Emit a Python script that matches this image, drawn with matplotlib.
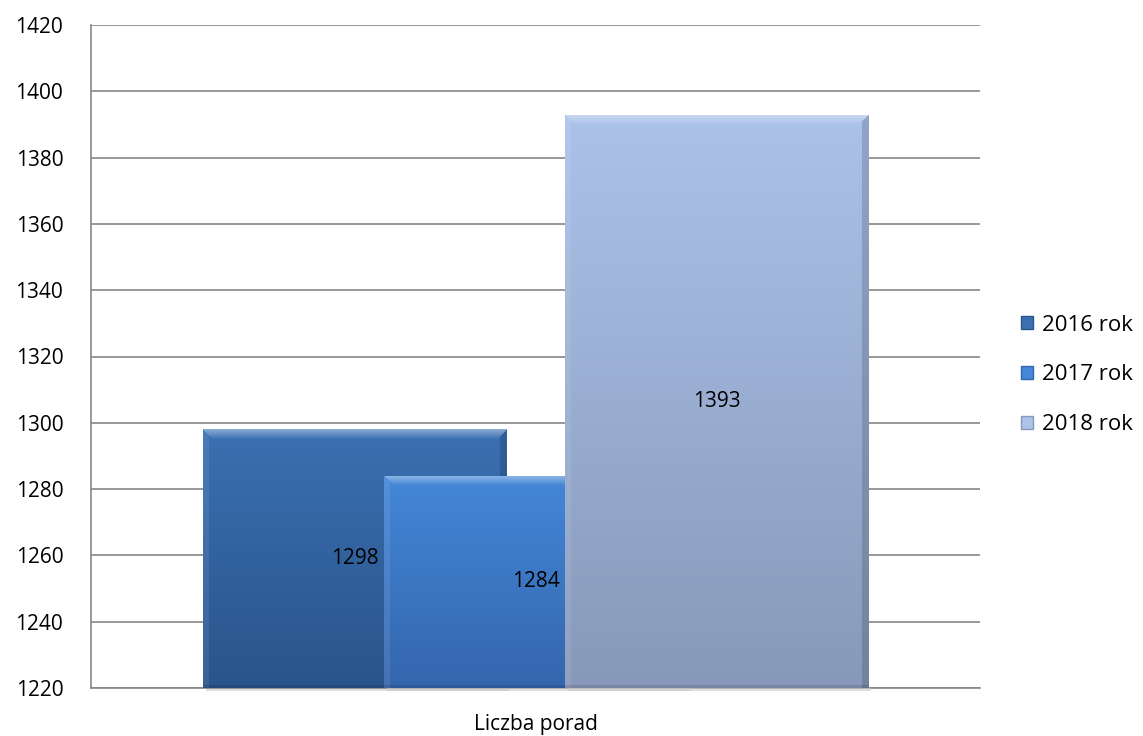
import numpy as np
import matplotlib
matplotlib.use("Agg")
import matplotlib.pyplot as plt
from matplotlib.patches import Patch
from matplotlib.colors import to_rgb

category = "Liczba porad"
series = ["2016 rok", "2017 rok", "2018 rok"]
values = [1298, 1284, 1393]
yticks = [1220, 1240, 1260, 1280, 1300, 1320, 1340, 1360, 1380, 1400, 1420]

top_colors = ["#3a70b2", "#4487d8", "#abc2e9"]
bot_colors = ["#2a548a", "#3466ad", "#8799ba"]

plt.rcParams['font.family'] = ['Open Sans', 'DejaVu Sans']
FS = 15

W, H, DPI = 1143, 736, 100
fig = plt.figure(figsize=(W / DPI, H / DPI), dpi=DPI)
ax = fig.add_axes([91 / W, 1 - 688 / H, (980 - 91) / W, (688 - 25) / H])

ymin, ymax = 1220, 1420
ax.set_ylim(ymin, ymax)
ax.set_xlim(-0.5, 0.5)

width = 0.341
step = 0.2036
offsets = [-step, 0.0, step]

px_per_y = (688 - 25) / (ymax - ymin)
px_per_x = (980 - 91) / 1.0


def bar_image(top, bot, wpx, hpx, bevel=10):
    t = np.array(to_rgb(top))
    b = np.array(to_rgb(bot))
    fr = np.linspace(0, 1, hpx)[:, None, None]
    img = t[None, None, :] * (1 - fr) + b[None, None, :] * fr
    img = np.repeat(img, wpx, axis=1)
    yy, xx = np.mgrid[0:hpx, 0:wpx]
    topm = (yy < bevel) & (xx >= yy) & (xx <= wpx - 1 - yy)
    tf = (1 - yy / bevel)
    img[topm] = img[topm] * (1 - 0.4 * tf[topm][:, None]) + 0.4 * tf[topm][:, None]
    leftm = (xx < 6) & ~topm
    img[leftm] = img[leftm] * 0.92 + 0.08
    rightm = (xx > wpx - 1 - 7) & ~topm
    img[rightm] = img[rightm] * 0.85
    botm = (yy > hpx - 1 - 3)
    img[botm] = img[botm] * 0.88
    return np.clip(img, 0, 1)


for i, (s, v) in enumerate(zip(series, values)):
    x0 = offsets[i] - width / 2
    x1 = offsets[i] + width / 2
    ax.bar(offsets[i] + 0.003, 1.0, width=width, bottom=ymin - 1.0,
           color="#c8c8c8", alpha=0.6, zorder=2 + i, clip_on=False)
    bars = ax.bar(offsets[i], v - ymin, width=width, bottom=ymin,
                  color=bot_colors[i], zorder=3 + i, label=s)
    patch = bars[0]
    wpx = int(round(width * px_per_x))
    hpx = int(round((v - ymin) * px_per_y))
    img = bar_image(top_colors[i], bot_colors[i], wpx, hpx)
    im = ax.imshow(img, extent=(x0, x1, ymin, v), aspect='auto',
                   origin='upper', zorder=3 + i + 0.1, interpolation='bilinear')
    im.set_clip_path(patch)

for i, v in enumerate(values):
    ax.text(offsets[i], (ymin + v) / 2, str(v), ha='center', va='center',
            fontsize=FS, color='black', zorder=10)

ax.set_xlim(-0.5, 0.5)
ax.set_ylim(ymin, ymax)
ax.set_yticks(yticks)
ax.set_yticklabels([str(t) for t in yticks], fontsize=FS)
ax.set_xticks([0])
ax.set_xticklabels([category], fontsize=FS)
ax.tick_params(axis='x', length=0, pad=19)
ax.tick_params(axis='y', length=0, pad=20)

ax.grid(axis='y', color='#868686', linewidth=1.2, zorder=0)
ax.set_axisbelow(True)
for sp in ['top', 'right']:
    ax.spines[sp].set_visible(False)
for sp in ['left', 'bottom']:
    ax.spines[sp].set_color('#868686')
    ax.spines[sp].set_linewidth(1.2)

handles = [Patch(facecolor=top_colors[i], edgecolor=bot_colors[i]) for i in range(3)]
leg = fig.legend(handles, series, loc='center left',
                 bbox_to_anchor=(1021 / W, 1 - 375 / H), frameon=False,
                 fontsize=16, handlelength=0.55, handleheight=0.55,
                 handletextpad=0.4, labelspacing=1.3, borderpad=0,
                 borderaxespad=0)

fig.savefig("out.png", dpi=DPI)
